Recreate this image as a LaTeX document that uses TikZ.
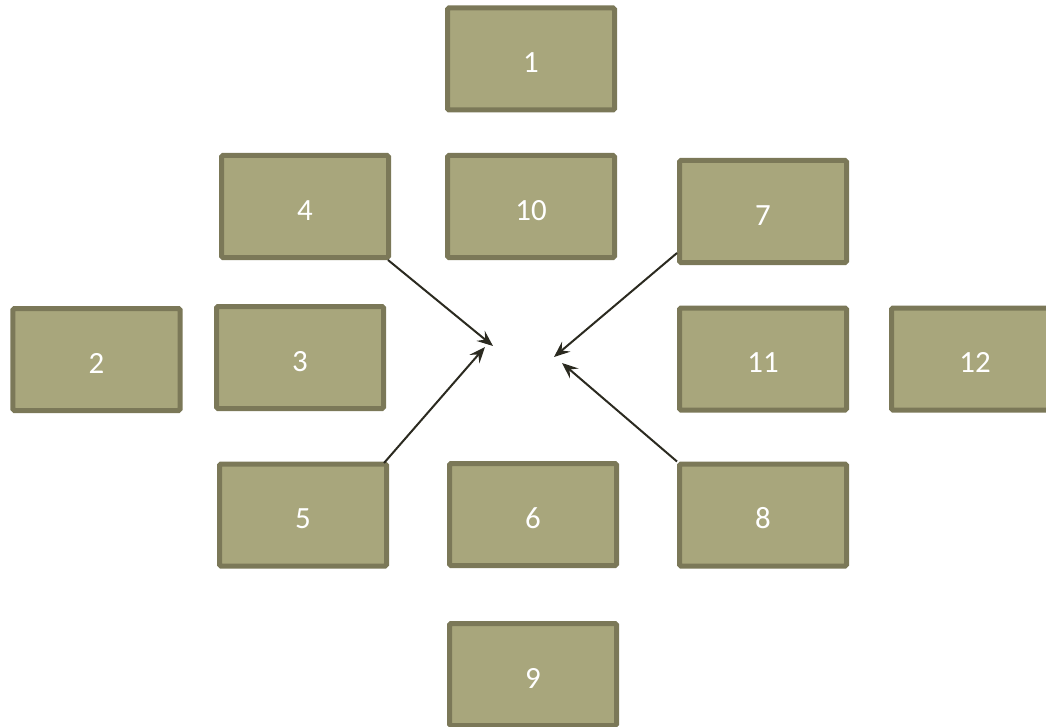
\documentclass[tikz,border=0pt]{standalone}
\usepackage{fontspec}
\setmainfont{Carlito}
\usetikzlibrary{arrows.meta}
\definecolor{boxfill}{HTML}{A8A67C}
\definecolor{boxline}{HTML}{7B7858}
\definecolor{arrowcol}{HTML}{2B2A20}
\tikzset{
  box/.style={draw=boxline, fill=boxfill, line width=5bp, rounded corners=1.5bp,
    minimum width=167bp, minimum height=102bp, inner sep=0pt,
    text height=27bp, text depth=0bp,
    text=white, font=\fontsize{31}{34}\selectfont},
  conn/.style={draw=arrowcol, line width=2bp,
    -{Stealth[length=16bp, width=13bp, inset=6bp]}}
}
\begin{document}
\begin{tikzpicture}[x=1bp,y=-1bp]
\useasboundingbox (0,0) rectangle (1046,727);
\node[box] (n1) at (531,59) {1};
\node[box] (n4) at (305,206.5) {4};
\node[box] (n10) at (531,206.5) {10};
\node[box] (n7) at (763,211.5) {7};
\node[box] (n2) at (96.5,359.5) {2};
\node[box] (n3) at (300,357.5) {3};
\node[box] (n11) at (763,359) {11};
\node[box] (n12) at (975,359) {12};
\node[box] (n5) at (303,515) {5};
\node[box] (n6) at (533,514.5) {6};
\node[box] (n8) at (763,515) {8};
\node[box] (n9) at (533,674.5) {9};
\coordinate (t4) at (493,346);
\coordinate (t5) at (485,347);
\coordinate (t7) at (554,357);
\coordinate (t8) at (562,363);
\draw[conn] ([xshift=-3bp]n4.south east) -- (t4);
\draw[conn] ([xshift=-5bp,yshift=-1.5bp]n5.north east) -- (t5);
\draw[conn] ([yshift=12bp]n7.south west) -- (t7);
\draw[conn] (n8.north west) -- (t8);
\end{tikzpicture}
\end{document}
